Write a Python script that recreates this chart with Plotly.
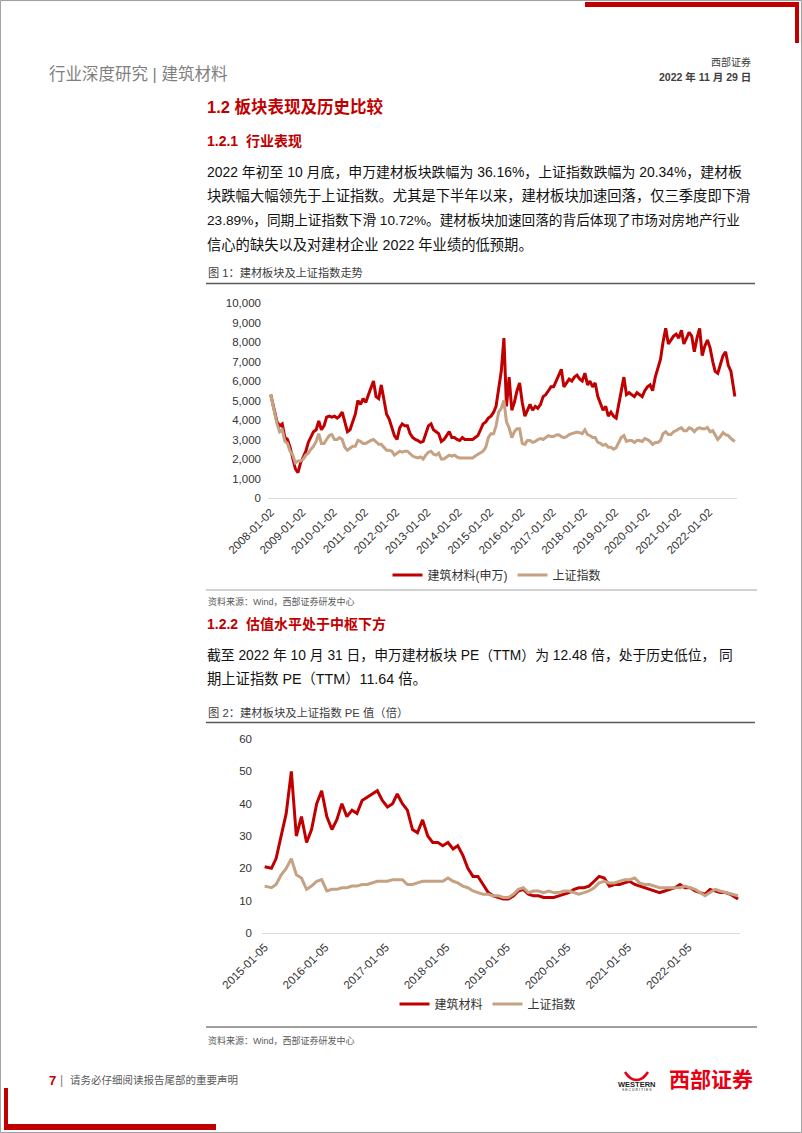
import plotly.graph_objects as go

# ---------------- data ----------------
# Chart 1: monthly closes, 2008-01 .. 2022-10
dates1 = ["2008-01-02"] + [f"{y}-{m:02d}-15" for y in range(2008, 2023) for m in range(1, 13)][1:177] + ["2022-10-31"]
jiancai_index = [
    5300, 4500, 3900, 3700, 3800, 3100, 3000, 2600, 2100, 1500, 1300, 1800,   # 2008
    2100, 2400, 2850, 3100, 3400, 3500, 3950, 3500, 3700, 4150, 4200, 4150,   # 2009
    4200, 4100, 4200, 4400, 3900, 3400, 3500, 3900, 4300, 5000, 4800, 5100,   # 2010
    4900, 5300, 5600, 6000, 5200, 5100, 5800, 5100, 4300, 4050, 3600, 3200,   # 2011
    3000, 3600, 3800, 3700, 3700, 3300, 3100, 3000, 2950, 2850, 2900, 3300,   # 2012
    3700, 3800, 3500, 3400, 3300, 2900, 3000, 3200, 3400, 3100, 3100, 3000,   # 2013
    2950, 3100, 3000, 3000, 3000, 3000, 3100, 3200, 3500, 3800, 3900, 4100,   # 2014
    4200, 4400, 4700, 5500, 6500, 8200, 4700, 6200, 4500, 4900, 5500, 5900,   # 2015
    4900, 4200, 4500, 4800, 4500, 4700, 4600, 4800, 5200, 5300, 5500, 5700,   # 2016
    5700, 6000, 6300, 6600, 5700, 5900, 6100, 6000, 6200, 6300, 6100, 6000,   # 2017
    6400, 5800, 6000, 5700, 5900, 5200, 4900, 4500, 4700, 4200, 4400, 4200,   # 2018
    4100, 4900, 5600, 6200, 5300, 5400, 5300, 5200, 5400, 5300, 5200, 5500,   # 2019
    5700, 5800, 5500, 6200, 6600, 7100, 8000, 8700, 7900, 8100, 8300, 8400,   # 2020
    8200, 8600, 7900, 8200, 8500, 8300, 7500, 8200, 8700, 7300, 7800, 8100,   # 2021
    7700, 7000, 6500, 6400, 6800, 7300, 7500, 6800, 6500, 5200,               # 2022
]
sh_index = [
    5300, 4400, 3800, 3400, 3500, 2900, 2800, 2400, 2200, 1800, 1900, 1900,   # 2008
    1990, 2200, 2300, 2500, 2650, 2900, 3300, 2800, 2800, 3000, 3200, 3250,   # 2009
    3000, 3000, 3100, 3000, 2600, 2450, 2550, 2650, 2650, 2950, 2900, 2800,   # 2010
    2800, 2900, 2950, 3000, 2850, 2750, 2750, 2600, 2450, 2450, 2400, 2200,   # 2011
    2300, 2400, 2350, 2400, 2400, 2250, 2150, 2100, 2050, 2100, 2000, 2200,   # 2012
    2350, 2400, 2250, 2200, 2300, 2000, 2000, 2100, 2200, 2150, 2200, 2100,   # 2013
    2050, 2050, 2050, 2050, 2050, 2050, 2150, 2250, 2350, 2400, 2600, 3100,   # 2014
    3300, 3300, 3700, 4400, 4600, 5000, 3900, 3600, 3100, 3400, 3550, 3550,   # 2015
    2800, 2750, 2950, 2950, 2850, 2900, 3000, 3050, 3000, 3100, 3200, 3150,   # 2016
    3150, 3230, 3240, 3150, 3100, 3150, 3250, 3300, 3350, 3380, 3350, 3300,   # 2017
    3500, 3250, 3200, 3100, 3100, 2850, 2800, 2700, 2750, 2600, 2600, 2500,   # 2018
    2580, 2900, 3100, 3200, 2900, 2950, 2950, 2850, 2950, 2950, 2900, 3050,   # 2019
    3000, 2900, 2750, 2850, 2850, 2950, 3300, 3400, 3250, 3250, 3400, 3450,   # 2020
    3550, 3600, 3450, 3450, 3600, 3550, 3400, 3550, 3600, 3550, 3550, 3620,   # 2021
    3400, 3450, 3200, 3000, 3150, 3350, 3250, 3200, 3050, 2900,               # 2022
]
ticks1 = [f"{y}-01-02" for y in range(2008, 2023)]

# Chart 2: monthly PE (TTM), 2015-01 .. 2022-10
dates2 = ["2015-01-05"] + [f"{y}-{m:02d}-15" for y in range(2015, 2023) for m in range(1, 13)][1:93] + ["2022-10-31"]
jiancai_pe = [
    20.5, 20, 23, 30, 37, 50, 30, 36, 28, 32, 40, 44,        # 2015
    36, 32, 35, 40, 36, 38, 37, 41, 42, 43, 44, 41,          # 2016
    39, 40, 43, 40, 38, 32, 31, 35, 30, 28, 28, 27,          # 2017
    28, 26, 27, 24, 20, 17.5, 17.5, 15, 12.5, 11.5, 11, 10.5, # 2018
    10.5, 11.5, 13, 13.5, 12, 11.5, 11.5, 11, 11, 11, 11.5, 12, # 2019
    12.5, 13.5, 14, 14, 14.5, 16, 17.5, 17, 14.5, 15, 15, 15.5, # 2020
    16, 15, 14.5, 14, 13.5, 13, 12.5, 13, 13.5, 14, 15, 14,   # 2021
    14, 13, 12.5, 12, 13.5, 13, 12.5, 12.5, 12, 10.5,         # 2022
]
sh_pe = [
    14.5, 14, 15, 18, 20, 23, 18, 17, 13.5, 14.5, 16, 16.5,  # 2015
    13, 13.5, 13.5, 14, 14, 14.5, 14.5, 15, 15, 15.5, 16, 16, # 2016
    16, 16.5, 16.5, 16.5, 15, 15, 15.5, 16, 16, 16, 16, 16,  # 2017
    17, 16, 15.5, 14.5, 14, 13, 12.5, 12, 12, 11.5, 11.5, 11, # 2018
    11, 12, 13.5, 14, 12.5, 13, 13, 12.5, 13, 12.5, 12.5, 13, # 2019
    13, 12.5, 12, 12.5, 13, 14, 15.5, 16, 15.5, 15.5, 16, 16.5, # 2020
    16.5, 17, 15.5, 15, 15, 14.5, 14, 14, 14, 14, 14, 14.5,  # 2021
    14, 13.5, 12.5, 11.5, 12.5, 13.5, 13, 12.5, 12, 11.5,    # 2022
]
ticks2 = [f"{y}-01-05" for y in range(2015, 2023)]

series1_names = ["建筑材料(申万)", "上证指数"]
series2_names = ["建筑材料", "上证指数"]

# ---------------- style / layout helpers ----------------
W, H = 802, 1133
RED = "#C00000"
TAN = "#C4A283"
FONT = "Liberation Sans, Noto Sans CJK SC, sans-serif"


def fx(x):
    return x / W


def fy(y):
    return 1 - y / H


fig = go.Figure()
fig.add_trace(go.Scatter(x=dates1, y=jiancai_index, name=series1_names[0], mode="lines",
                         line=dict(color=RED, width=3), xaxis="x", yaxis="y", legend="legend"))
fig.add_trace(go.Scatter(x=dates1, y=sh_index, name=series1_names[1], mode="lines",
                         line=dict(color=TAN, width=3), xaxis="x", yaxis="y", legend="legend"))
fig.add_trace(go.Scatter(x=dates2, y=jiancai_pe, name=series2_names[0], mode="lines",
                         line=dict(color=RED, width=3), xaxis="x2", yaxis="y2", legend="legend2"))
fig.add_trace(go.Scatter(x=dates2, y=sh_pe, name=series2_names[1], mode="lines",
                         line=dict(color=TAN, width=3), xaxis="x2", yaxis="y2", legend="legend2"))

tickfont = dict(family=FONT, size=11.5, color="#333333")

xcommon = dict(type="date", showgrid=False, zeroline=False, showline=True, linecolor="#D9D9D9",
               linewidth=1, ticks="", tickangle=-45, tickfont=tickfont, automargin=False)
ycommon = dict(showgrid=False, zeroline=False, showline=False, ticks="", tickfont=tickfont,
               automargin=False)

legfont = dict(family=FONT, size=12, color="#333333")

fig.update_layout(
    width=W, height=H, margin=dict(l=0, r=0, t=0, b=0, autoexpand=False),
    paper_bgcolor="white", plot_bgcolor="white",
    font=dict(family=FONT),
    xaxis=dict(xcommon, domain=[fx(268), fx(737)], anchor="y",
               range=["2007-12-01", "2022-11-25"], tickvals=ticks1, ticktext=ticks1,
               ticklabelstandoff=2),
    yaxis=dict(ycommon, domain=[fy(498), fy(303)], anchor="x", range=[0, 10000],
               dtick=1000, tickformat=",.0f", ticklabelstandoff=6),
    xaxis2=dict(xcommon, domain=[fx(262), fx(740)], anchor="y2",
                range=["2014-12-20", "2022-11-12"], tickvals=ticks2, ticktext=ticks2,
                ticklabelstandoff=2),
    yaxis2=dict(ycommon, domain=[fy(933), fy(739)], anchor="x2", range=[0, 60],
                dtick=10, ticklabelstandoff=9),
    legend=dict(orientation="h", x=fx(497), xanchor="center", y=fy(575), yanchor="middle",
                font=legfont, bgcolor="rgba(0,0,0,0)", itemwidth=30, tracegroupgap=0),
    legend2=dict(orientation="h", x=fx(488), xanchor="center", y=fy(1004), yanchor="middle",
                 font=legfont, bgcolor="rgba(0,0,0,0)", itemwidth=30, tracegroupgap=0),
    showlegend=True,
)

shapes = []


def hline(x0, x1, y, color, width):
    shapes.append(dict(type="line", xref="paper", yref="paper", x0=fx(x0), x1=fx(x1),
                       y0=fy(y), y1=fy(y), line=dict(color=color, width=width)))


def rect(x0, y0, x1, y1, color):
    shapes.append(dict(type="rect", xref="paper", yref="paper", x0=fx(x0), x1=fx(x1),
                       y0=fy(y1), y1=fy(y0), line=dict(width=0), fillcolor=color))


# page frame
shapes.append(dict(type="rect", xref="paper", yref="paper", x0=0.0005, x1=0.9995, y0=0.0005, y1=0.9995,
                   line=dict(color="#9A9A9A", width=1)))
# corner decorations
rect(585, 2, 799, 7, RED)
rect(795, 2, 799, 43, RED)
rect(4, 1088, 8, 1130, RED)
rect(4, 1124, 216, 1130, RED)
# rules around figures
hline(206, 755, 283.5, "#595959", 1.6)
hline(206, 757, 590, "#A6A6A6", 1.2)
hline(206, 755, 722.5, "#595959", 1.6)
hline(206, 757, 1027, "#404040", 1.2)
# bull logo (simple red horns)
shapes.append(dict(type="path", xref="paper", yref="paper",
                   path=f"M {fx(625)},{fy(1072)} Q {fx(630)},{fy(1080)} {fx(636.5)},{fy(1080)} "
                        f"Q {fx(643)},{fy(1080)} {fx(648)},{fy(1072)}",
                   line=dict(color="#E60012", width=2.5)))
fig.update_layout(shapes=shapes)

annotations = []


def text(x, y, s, size, color="#000000", anchor="left", bold=False):
    if bold:
        s = f"<b>{s}</b>"
    annotations.append(dict(xref="paper", yref="paper", x=fx(x), y=fy(y), text=s, showarrow=False,
                            xanchor=anchor, yanchor="middle",
                            font=dict(family=FONT, size=size, color=color)))


# header
text(47, 74, "行业深度研究 | 建筑材料", 16.5, "#7F7F7F")
text(753, 62, "西部证券", 10, "#404040", anchor="right")
text(753, 77, "2022 年 11 月 29 日", 10.5, "#404040", anchor="right", bold=True)

# section 1.2
text(205, 107, "1.2 板块表现及历史比较", 16.5, RED, bold=True)
text(205, 141, "1.2.1  行业表现", 14, RED, bold=True)
para1 = [
    "2022 年初至 10 月底，申万建材板块跌幅为 36.16%，上证指数跌幅为 20.34%，建材板",
    "块跌幅大幅领先于上证指数。尤其是下半年以来，建材板块加速回落，仅三季度即下滑",
    "23.89%，同期上证指数下滑 10.72%。建材板块加速回落的背后体现了市场对房地产行业",
    "信心的缺失以及对建材企业 2022 年业绩的低预期。",
]
para1_sizes = [13.9, 14.3, 13.65, 14.3]
for i, line in enumerate(para1):
    text(205, 172 + i * 24, line, para1_sizes[i], "#111111")
text(206, 272, "图 1：建材板块及上证指数走势", 11.2, "#404040")
text(206, 601, "资料来源：Wind，西部证券研发中心", 9, "#595959")

# section 1.2.2
text(205, 624, "1.2.2  估值水平处于中枢下方", 14, RED, bold=True)
para2 = [
    "截至 2022 年 10 月 31 日，申万建材板块 PE（TTM）为 12.48 倍，处于历史低位， 同",
    "期上证指数 PE（TTM）11.64 倍。",
]
para2_sizes = [13.8, 14.3]
for i, line in enumerate(para2):
    text(205, 655 + i * 24, line, para2_sizes[i], "#111111")
text(206, 712, "图 2：建材板块及上证指数 PE 值（倍）", 11.3, "#404040")
text(206, 1040, "资料来源：Wind，西部证券研发中心", 9, "#595959")

# footer
text(47, 1080, "7", 13, RED, bold=True)
text(58, 1080, "|", 12, "#7F7F7F")
text(68, 1080, "请务必仔细阅读报告尾部的重要声明", 10.5, "#595959")
text(637, 1084, "WESTERN", 7.5, "#222222", anchor="center", bold=True)
text(637, 1090, "S E C U R I T I E S", 3.5, "#222222", anchor="center")
text(755, 1079, "西部证券", 21, "#E60012", anchor="right", bold=True)

fig.update_layout(annotations=annotations)

fig.write_html("out.html")
